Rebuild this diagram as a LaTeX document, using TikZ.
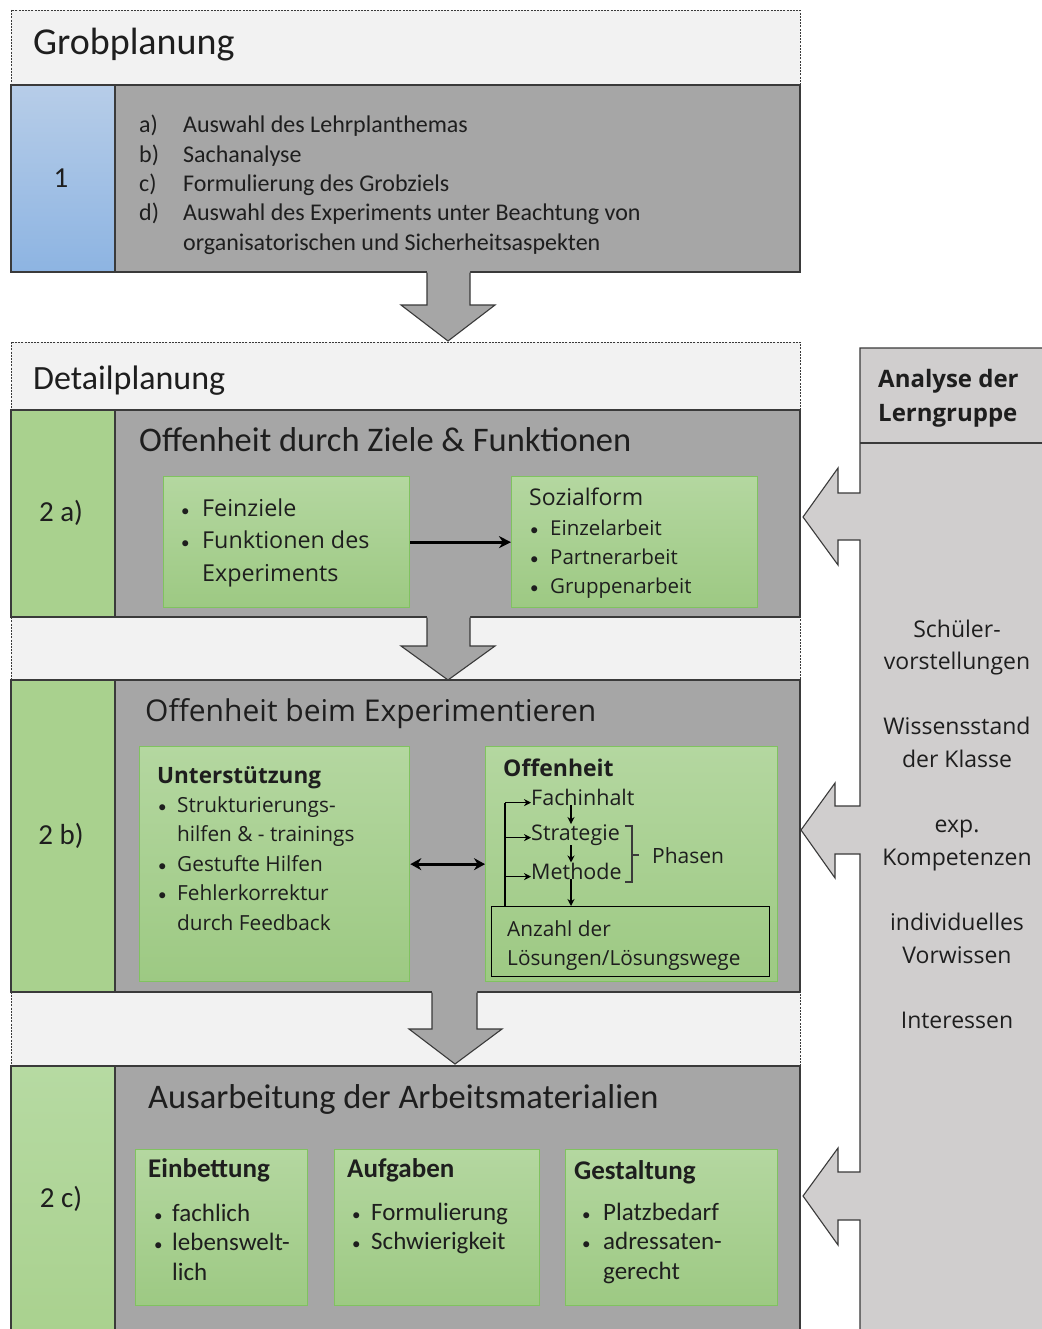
\documentclass[tikz,border=0pt]{standalone}
\usepackage{fontspec}
\setmainfont{Carlito}
\newfontfamily\calfont{Carlito}
\newfontfamily\corfont{Open Sans}
\usetikzlibrary{arrows.meta}
\newcommand\fsz[2]{\fontsize{#1}{#2}\selectfont}
% list bullet of fixed size, independent of the surrounding text size
\newcommand\bul{{\calfont\fontsize{17}{17}\selectfont\textbullet}}

\definecolor{hdr}{HTML}{F2F2F2}
\definecolor{panel}{HTML}{A6A6A6}
\definecolor{edge}{HTML}{3A3A3A}
\definecolor{side}{HTML}{D0CECE}
\definecolor{blueTop}{HTML}{B7CDE8}
\definecolor{blueBot}{HTML}{8DB4E2}
\definecolor{greenTopC}{HTML}{B6DAA2}
\definecolor{greenCell}{HTML}{A9D18E}
\definecolor{greenTop}{HTML}{B4D7A0}
\definecolor{greenBot}{HTML}{9DC983}
\definecolor{greenEdge}{HTML}{80C260}
\definecolor{ink}{HTML}{1E1E1E}

\begin{document}
\begin{tikzpicture}[x=1pt,y=-1pt,
  hdrbox/.style={fill=hdr, draw=edge, dash pattern=on 2pt off 1.2pt, line width=0.8pt},
  panelbox/.style={fill=panel, draw=edge, line width=1.1pt},
  cellbox/.style={draw=edge, line width=1.1pt},
  greenbox/.style={top color=greenTop, bottom color=greenBot, draw=greenEdge, line width=1.3pt, inner sep=0pt, anchor=north west},
  bigarrow/.style={fill=panel, draw=edge, line width=1.1pt, line join=miter},
  txt/.style={inner sep=0pt, anchor=base west, text=ink},
  flow/.style={line width=1.3pt, -{Stealth[length=7pt,width=7pt]}},
]
\useasboundingbox (0,0) rectangle (1041,1329);
\fill[white] (0,0) rectangle (1041,1329);

% ---------- Grobplanung ----------
\draw[hdrbox] (11,10) rectangle (800,85);
\node[txt] (grobTitle) at (33,55) {\calfont\fsz{38}{44}Grobplanung};
\draw[panelbox] (115,85) rectangle (800,272);
\shade[top color=blueTop, bottom color=blueBot] (11,85) rectangle (115,272);
\draw[cellbox] (11,85) rectangle (115,272);
\node[text=ink, inner sep=0pt] (numOne) at (61,178) {\calfont\fsz{29}{34}1};
\node[txt] (grobList) at (139,133) {\calfont\fsz{24}{29.3}%
  \begin{tabular}[t]{@{}p{44pt}@{}l@{}}
  a) & Auswahl des Lehrplanthemas\\
  b) & Sachanalyse\\
  c) & Formulierung des Grobziels\\
  d) & Auswahl des Experiments unter Beachtung von\\
     & organisatorischen und Sicherheitsaspekten
  \end{tabular}};

% ---------- Detailplanung frame ----------
\draw[hdrbox] (11,342) rectangle (800,1340);
\node[txt] (detailTitle) at (33,389) {\calfont\fsz{34}{40}Detailplanung};

% ---------- 2 a) ----------
\draw[panelbox] (115,410) rectangle (800,617);
\fill[greenCell] (11,410) rectangle (115,617);
\draw[cellbox] (11,410) rectangle (115,617);
\node[text=ink, inner sep=0pt] (numTwoA) at (61,513) {\calfont\fsz{29}{34}2 a)};
\node[txt] (titleA) at (139,451) {\calfont\fsz{34.5}{40}Offenheit durch Ziele \& Funktionen};

\node[greenbox, minimum width=246, minimum height=131] (feinBox) at (163,476) {};
\node[txt] (feinText) at (181,516) {\corfont\fsz{23.3}{32.5}%
  \begin{tabular}[t]{@{}p{21pt}@{}l@{}}
  \bul & Feinziele\\
  \bul & Funktionen des\\
       & Experiments
  \end{tabular}};
\node[greenbox, minimum width=246, minimum height=131] (sozBox) at (511,476) {};
\node[txt] (sozTitle) at (529,505) {\corfont\fsz{23}{26}Sozialform};
\node[txt] (sozList) at (530,535) {\corfont\fsz{20.5}{29.2}%
  \begin{tabular}[t]{@{}p{20pt}@{}l@{}}
  \bul & Einzelarbeit\\
  \bul & Partnerarbeit\\
  \bul & Gruppenarbeit
  \end{tabular}};
\draw[line width=3pt, -{Stealth[length=12pt,width=12pt]}] (feinBox.east) -- (sozBox.west);

% ---------- 2 b) ----------
\draw[panelbox] (115,680) rectangle (800,992);
\fill[greenCell] (11,680) rectangle (115,992);
\draw[cellbox] (11,680) rectangle (115,992);
\node[text=ink, inner sep=0pt] (numTwoB) at (61,836) {\calfont\fsz{29}{34}2 b)};
\node[txt] (titleB) at (145,721) {\corfont\fsz{30}{34}Offenheit beim Experimentieren};

\node[greenbox, minimum width=270, minimum height=235] (unterBox) at (139,746) {};
\node[txt] (unterTitle) at (157,783) {\corfont\bfseries\fsz{22.5}{26}Unterstützung};
\node[txt] (unterList) at (158,812) {\corfont\fsz{20.8}{29.5}%
  \begin{tabular}[t]{@{}p{19pt}@{}l@{}}
  \bul & Strukturierungs-\\
       & hilfen \& - trainings\\
  \bul & Gestufte Hilfen\\
  \bul & Fehlerkorrektur\\
       & durch Feedback
  \end{tabular}};

\node[greenbox, minimum width=292, minimum height=235] (offBox) at (485,746) {};
\node[txt] (offTitle) at (503,776) {\corfont\bfseries\fsz{23}{26}Offenheit};
\node[txt] (fach) at (531,805) {\corfont\fsz{21.5}{24}Fachinhalt};
\node[txt] (strat) at (531,840) {\corfont\fsz{21.5}{24}Strategie};
\node[txt] (meth) at (531,879) {\corfont\fsz{21.5}{24}Methode};
\node[txt] (phasen) at (652,863) {\corfont\fsz{21}{24}Phasen};
\node[draw=black, line width=1.3pt, minimum width=278, minimum height=70, inner sep=0pt, anchor=north west] (anzBox) at (491,906) {};
\node[txt] (anzText) at (507,936) {\corfont\fsz{20.8}{29}%
  \begin{tabular}[t]{@{}l@{}}
  Anzahl der\\
  Lösungen/Lösungswege
  \end{tabular}};
\coordinate (spine) at (505,0);
\coordinate (dcol) at (571,0);
\draw[line width=1.3pt] (anzBox.north -| spine) -- (spine |- fach.mid west);
\draw[flow] (spine |- fach.mid west) -- (fach.mid west);
\draw[flow] (spine |- strat.mid west) -- (strat.mid west);
\draw[flow] (spine |- meth.mid west) -- (meth.mid west);
\draw[flow] (dcol |- fach.south) -- (dcol |- strat.north);
\draw[flow] (dcol |- strat.south) -- (dcol |- meth.north);
\draw[flow] (dcol |- meth.south) -- (dcol |- anzBox.north);
% bracket grouping the phases
\draw[line width=1.3pt, draw=edge] (625,826) -- (632,826) -- (632,882) -- (625,882);
\draw[line width=1.3pt, draw=edge] (632,855) -- (639,855);

\draw[line width=3pt, {Stealth[length=11pt,width=12pt]}-{Stealth[length=11pt,width=12pt]}] (unterBox.east) -- (offBox.west);

% ---------- 2 c) ----------
\draw[panelbox] (115,1066) rectangle (800,1340);
\shade[top color=greenTopC, bottom color=greenCell] (11,1066) rectangle (115,1340);
\draw[cellbox] (11,1066) rectangle (115,1340);
\node[text=ink, inner sep=0pt] (numTwoC) at (61,1199) {\calfont\fsz{29}{34}2 c)};
\node[txt] (titleC) at (148,1108) {\calfont\fsz{34.5}{40}Ausarbeitung der Arbeitsmaterialien};

\node[greenbox, minimum width=172, minimum height=156] (einBox) at (135,1149) {};
\node[txt] (einTitle) at (148,1177) {\calfont\bfseries\fsz{27}{30}Einbettung};
\node[txt] (einList) at (154,1221) {\calfont\fsz{25}{29.5}%
  \begin{tabular}[t]{@{}p{18pt}@{}l@{}}
  \bul & fachlich\\
  \bul & lebenswelt-\\
       & lich
  \end{tabular}};

\node[greenbox, minimum width=205, minimum height=156] (aufBox) at (334,1149) {};
\node[txt] (aufTitle) at (347,1177) {\calfont\bfseries\fsz{27}{30}Aufgaben};
\node[txt] (aufList) at (352,1220) {\calfont\fsz{25}{29.5}%
  \begin{tabular}[t]{@{}p{19pt}@{}l@{}}
  \bul & Formulierung\\
  \bul & Schwierigkeit
  \end{tabular}};

\node[greenbox, minimum width=212, minimum height=156] (gestBox) at (565,1149) {};
\node[txt] (gestTitle) at (574,1179) {\calfont\bfseries\fsz{27}{30}Gestaltung};
\node[txt] (gestList) at (582,1220) {\calfont\fsz{25}{29.5}%
  \begin{tabular}[t]{@{}p{21pt}@{}l@{}}
  \bul & Platzbedarf\\
  \bul & adressaten-\\
       & gerecht
  \end{tabular}};

% ---------- block arrows between the stages ----------
\fill[panel] (427,271) -- (427,305) -- (401,305) -- (448,341) -- (495,305) -- (470,305) -- (470,271) -- cycle;
\draw[bigarrow, fill=none] (427,272.6) -- (427,305) -- (401,305) -- (448,341) -- (495,305) -- (470,305) -- (470,272.6);
\fill[panel] (427,616) -- (427,646) -- (401,646) -- (448,680) -- (495,646) -- (470,646) -- (470,616) -- cycle;
\draw[bigarrow, fill=none] (427,617.6) -- (427,646) -- (401,646) -- (448,680) -- (495,646) -- (470,646) -- (470,617.6);
\fill[panel] (432,991) -- (432,1029) -- (409,1029) -- (455,1064) -- (502,1029) -- (477,1029) -- (477,991) -- cycle;
\draw[bigarrow, fill=none] (432,992.6) -- (432,1029) -- (409,1029) -- (455,1064) -- (502,1029) -- (477,1029) -- (477,992.6);

% ---------- Analyse der Lerngruppe ----------
\draw[fill=side, draw=edge, line width=1.1pt, line join=miter]
  (1045,348) -- (860,348) -- (860,493) -- (838,493) -- (838,468) -- (803,517)
  -- (838,565) -- (838,540) -- (860,540) -- (860,806) -- (835,806) -- (835,783)
  -- (801,830) -- (835,878) -- (835,854) -- (860,854) -- (860,1172) -- (838,1172)
  -- (838,1148) -- (803,1196) -- (838,1245) -- (838,1220) -- (860,1220)
  -- (860,1340) -- (1045,1340) -- cycle;
\draw[draw=edge, line width=1.1pt] (860,443) -- (1045,443);
\node[txt] (anaTitle) at (878,387) {\corfont\bfseries\fsz{24}{34}%
  \begin{tabular}[t]{@{}l@{}}Analyse der\\ Lerngruppe\end{tabular}};
\node[inner sep=0pt, anchor=base, text=ink] (anaList) at (957,637) {\corfont\fsz{23}{32.6}%
  \begin{tabular}[t]{@{}c@{}}
  Schüler-\\ vorstellungen\\[32.6pt]
  Wissensstand\\ der Klasse\\[32.6pt]
  exp.\\ Kompetenzen\\[32.6pt]
  individuelles\\ Vorwissen\\[32.6pt]
  Interessen
  \end{tabular}};
\end{tikzpicture}
\end{document}
